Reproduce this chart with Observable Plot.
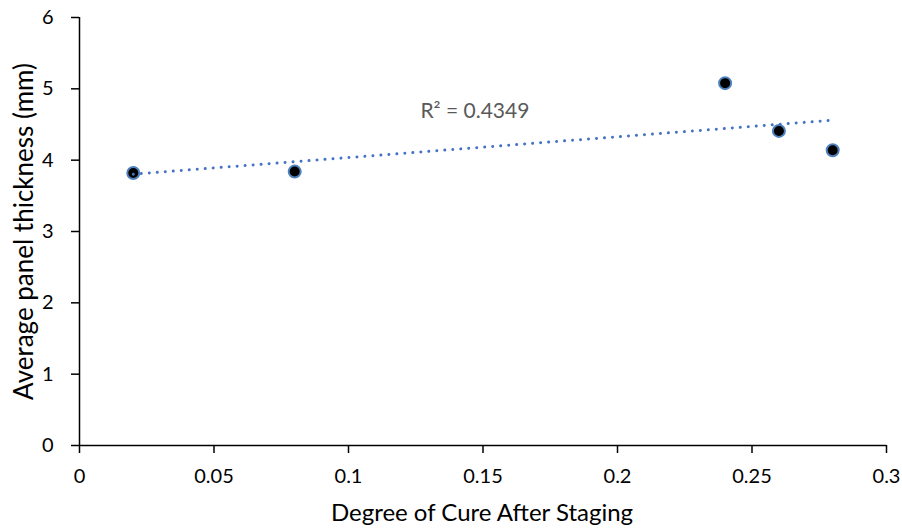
<!DOCTYPE html>
<html>
<head>
<meta charset="utf-8">
<script src="https://cdn.jsdelivr.net/npm/d3@7"></script>
<script src="https://cdn.jsdelivr.net/npm/@observablehq/plot@0.6"></script>
<style>
  html, body { margin: 0; padding: 0; background: #fff; }
  #chart svg { display: block; }
</style>
</head>
<body>
<div id="chart"></div>
<script>
// Data
const degreeOfCure = [0.02, 0.08, 0.24, 0.26, 0.28];
const panelThickness = [3.82, 3.84, 5.08, 4.41, 4.14];
const xTicks = [0, 0.05, 0.1, 0.15, 0.2, 0.25, 0.3];
const yTicks = [0, 1, 2, 3, 4, 5, 6];
const r2Label = ["R² = 0.4349"];
const r2Anchor = { x: 0.147, y: 4.69 };
const xTitle = "Degree of Cure After Staging";
const yTitle = "Average panel thickness (mm)";

const data = degreeOfCure.map((x, i) => ({ x, y: panelThickness[i] }));
const font = "Lato, 'Open Sans', sans-serif";

const chart = Plot.plot({
  width: 902,
  height: 529,
  marginLeft: 79,
  marginRight: 16,
  marginTop: 17,
  marginBottom: 84,
  style: { fontFamily: font, fontSize: "20px", background: "#fff", color: "#000" },
  x: { domain: [0, 0.3], inset: 0 },
  y: { domain: [0, 6], inset: 0 },
  marks: [
    Plot.axisX({ ticks: xTicks, tickSize: 8, tickPadding: 15, tickFormat: d => String(d), stroke: "#000", strokeWidth: 1.5, strokeOpacity: 1, fill: "#000", label: null }),
    Plot.axisY({ ticks: yTicks, tickSize: 8, tickPadding: 18, tickFormat: d => String(d), stroke: "#000", strokeWidth: 1.5, strokeOpacity: 1, fill: "#000", label: null }),
    Plot.ruleY([0], { stroke: "#000", strokeWidth: 1.5 }),
    Plot.ruleX([0], { stroke: "#000", strokeWidth: 1.5 }),
    Plot.dot(data, { x: "x", y: "y", r: 6, fill: "#000", stroke: "#4F81BD", strokeWidth: 2 }),
    Plot.linearRegressionY(data, { x: "x", y: "y", ci: 0, stroke: "#4472C4", strokeWidth: 3, strokeDasharray: "0.01 8", strokeLinecap: "round" }),
    Plot.text(r2Label, { x: () => r2Anchor.x, y: () => r2Anchor.y, text: d => d, fontSize: 21, fill: "#595959", fontFamily: font })
  ]
});

const svg = d3.select(chart);
// X axis title
svg.append("text")
  .attr("x", 482)
  .attr("y", 521)
  .attr("text-anchor", "middle")
  .attr("font-family", font)
  .attr("font-size", 24)
  .attr("fill", "#000")
  .text(xTitle);
// Y axis title
svg.append("text")
  .attr("transform", "translate(23,231.5) rotate(-90)")
  .attr("text-anchor", "middle")
  .attr("dominant-baseline", "central")
  .attr("font-family", font)
  .attr("font-size", 26)
  .attr("fill", "#000")
  .text(yTitle);

document.getElementById("chart").appendChild(chart);
</script>
</body>
</html>
